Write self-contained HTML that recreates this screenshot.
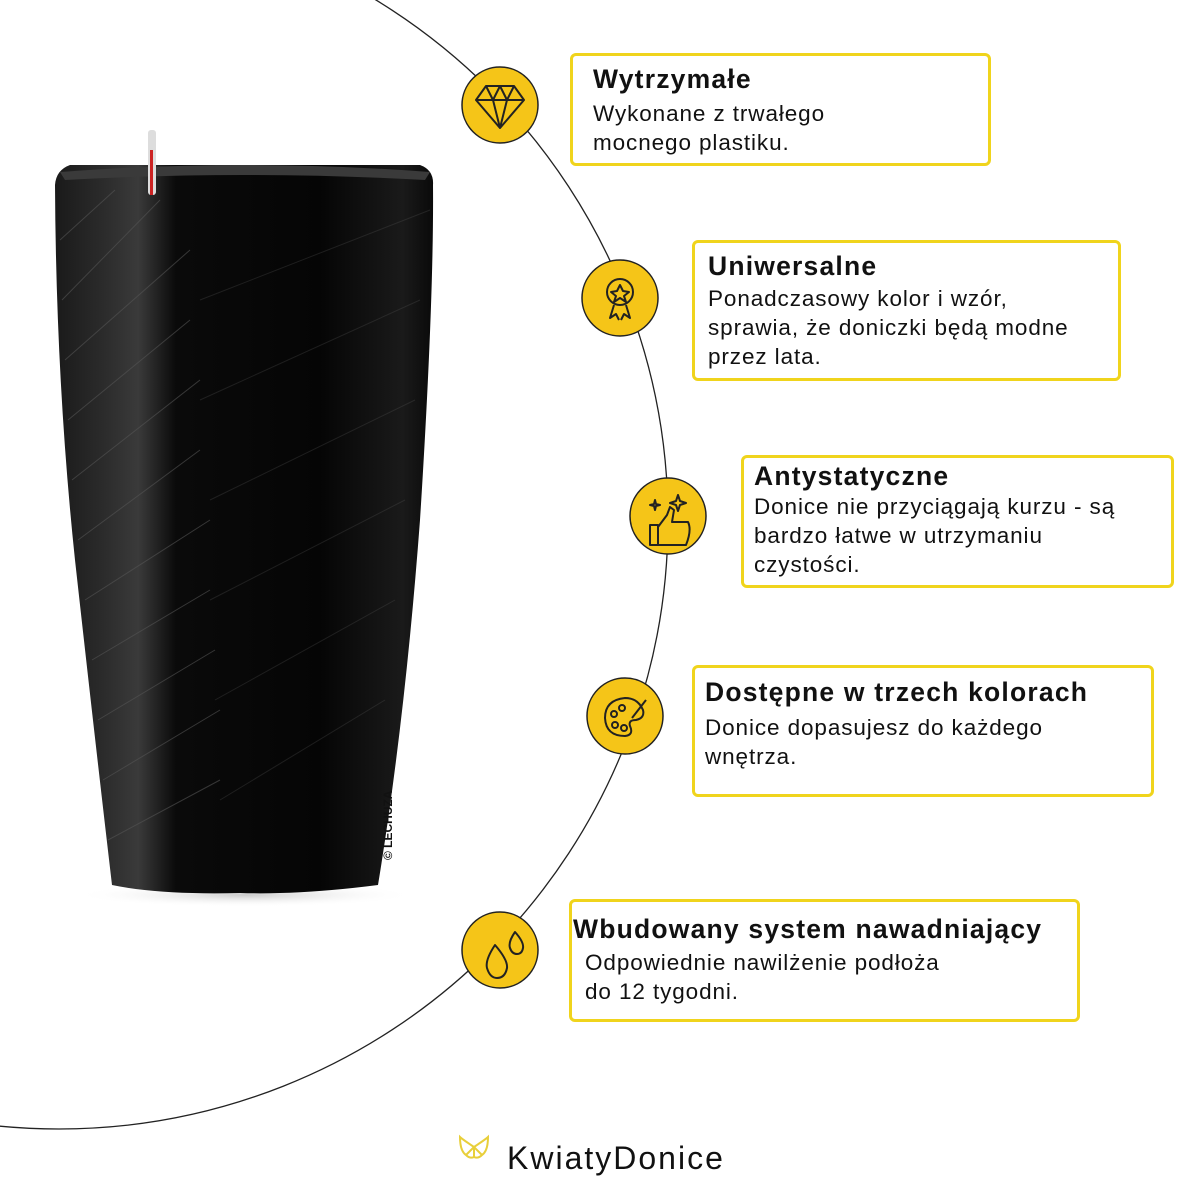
<!DOCTYPE html>
<html><head><meta charset="utf-8"><style>
html,body{margin:0;padding:0;background:#fff;}
body{width:1200px;height:1200px;position:relative;overflow:hidden;font-family:"Liberation Sans",sans-serif;}
.box{position:absolute;border:3px solid #f0d41c;border-radius:6px;box-sizing:border-box;background:#fff;}
.box h3{margin:0;font-size:26.5px;font-weight:bold;color:#111;letter-spacing:1.2px;white-space:nowrap;}
.box p{margin:0;font-size:22.5px;line-height:29px;color:#111;letter-spacing:0.9px;white-space:nowrap;}
</style></head><body>
<svg width="1200" height="1200" style="position:absolute;left:0;top:0">
<defs>
<linearGradient id="pg" x1="0" x2="1" y1="0" y2="0">
<stop offset="0" stop-color="#1a1a1a"/><stop offset="0.12" stop-color="#2a2a2a"/><stop offset="0.22" stop-color="#3a3a3a"/><stop offset="0.32" stop-color="#0a0a0a"/><stop offset="0.7" stop-color="#050505"/><stop offset="0.92" stop-color="#1a1a1a"/><stop offset="1" stop-color="#0a0a0a"/>
</linearGradient>
<radialGradient id="sh" cx="0.5" cy="0.5" r="0.5"><stop offset="0" stop-color="#ccc"/><stop offset="1" stop-color="#fff" stop-opacity="0"/></radialGradient>
</defs>
<circle cx="59" cy="520" r="609" fill="none" stroke="#222" stroke-width="1.3"/>
<ellipse cx="245" cy="895" rx="170" ry="12" fill="url(#sh)"/>
<path d="M55 185 Q56 170 70 165 L420 165 Q434 170 433 185 Q434 300 420 520 Q405 720 378 885 Q300 895 240 893 Q160 895 112 885 Q95 740 75 560 Q56 380 55 185 Z" fill="url(#pg)"/>
<g stroke="#555" stroke-width="1" opacity="0.6" fill="none">
<path d="M60 240 L115 190 M62 300 L160 200 M65 360 L190 250 M68 420 L190 320 M72 480 L200 380 M78 540 L200 450 M85 600 L210 520 M92 660 L210 590 M98 720 L215 650 M103 780 L220 710 M108 840 L220 780"/>
<path d="M200 300 L430 210 M200 400 L420 300 M210 500 L415 400 M210 600 L405 500 M215 700 L395 600 M220 800 L385 700" opacity="0.5"/>
</g>
<path d="M60 172 Q245 158 430 172 L425 180 Q245 170 65 180Z" fill="#3a3a3a"/>
<rect x="148" y="130" width="8" height="65" rx="3" fill="#ddd"/>
<rect x="150" y="150" width="3" height="45" fill="#c22"/>
<text x="392" y="860" transform="rotate(-90 392 860)" font-size="12" font-weight="bold" fill="#111" font-family="Liberation Sans, sans-serif">© LECHUZA</text>
<g stroke="#222" stroke-width="1.5">
<circle cx="500" cy="105" r="38" fill="#f5c518"/>
<circle cx="620" cy="298" r="38" fill="#f5c518"/>
<circle cx="668" cy="516" r="38" fill="#f5c518"/>
<circle cx="625" cy="716" r="38" fill="#f5c518"/>
<circle cx="500" cy="950" r="38" fill="#f5c518"/>
</g>
<g stroke="#222" stroke-width="2" fill="none" stroke-linejoin="round">
<path d="M476 100 L486 86 L514 86 L524 100 L500 128 Z M476 100 L524 100 M486 86 L493 100 L500 86 L507 100 L514 86 M493 100 L500 128 L507 100"/>
<circle cx="620" cy="292" r="13"/><path d="M614 305 L610 318 L616 314 L619 320 M626 305 L630 318 L624 314 L621 320"/><path d="M620 285 L623 291 L629 292 L624 296 L626 302 L620 298 L614 302 L616 296 L611 292 L617 291Z"/>
<path d="M650 525 L658 525 L658 545 L650 545Z M658 527 L667 515 L670 507 L674 510 L672 522 L688 522 Q692 530 686 545 L658 545"/><path d="M678 495 l2 6 6 2 -6 2 -2 6 -2 -6 -6 -2 6 -2z M655 500 l1 4 4 1 -4 1 -1 4 -1 -4 -4 -1 4 -1z"/>
<path d="M625 698 Q605 700 605 718 Q606 736 625 736 Q634 735 630 726 Q628 720 636 720 Q645 718 643 710 Q638 698 625 698Z"/><circle cx="614" cy="714" r="3"/><circle cx="622" cy="708" r="3"/><circle cx="615" cy="725" r="3"/><circle cx="624" cy="728" r="3"/><path d="M632 718 L646 700"/>
<path d="M495 945 Q485 960 487 968 Q490 978 497 978 Q505 978 507 968 Q508 960 495 945Z M515 932 Q508 942 510 948 Q512 954 517 954 Q522 954 523 948 Q524 942 515 932Z"/>
</g>
<g transform="translate(460,1147)" stroke="#e8cf3a" stroke-width="2" fill="none">
<path d="M14 0 Q2 -8 0 -10 Q0 4 6 8 Q10 12 14 10 Q18 12 22 8 Q28 4 28 -10 Q26 -8 14 0Z M14 0 L14 10 M6 8 L14 0 L22 8"/>
</g>
</svg>
<div class="box" style="left:570px;top:53px;width:421px;height:113px;padding:8px 0 0 20px"><h3>Wytrzymałe</h3><p style="margin-top:4px">Wykonane z trwałego<br>mocnego plastiku.</p></div>
<div class="box" style="left:692px;top:240px;width:429px;height:141px;padding:8px 0 0 13px"><h3>Uniwersalne</h3><p style="margin-top:2px">Ponadczasowy kolor i wzór,<br>sprawia, że doniczki będą modne<br>przez lata.</p></div>
<div class="box" style="left:741px;top:455px;width:433px;height:133px;padding:3px 0 0 10px"><h3>Antystatyczne</h3><p>Donice nie przyciągają kurzu - są<br>bardzo łatwe w utrzymaniu<br>czystości.</p></div>
<div class="box" style="left:692px;top:665px;width:462px;height:132px;padding:9px 0 0 10px"><h3>Dostępne w trzech kolorach</h3><p style="margin-top:5px">Donice dopasujesz do każdego<br>wnętrza.</p></div>
<div class="box" style="left:569px;top:899px;width:511px;height:123px;padding:12px 0 0 1px"><h3>Wbudowany system nawadniający</h3><p style="margin-top:3px;padding-left:12px">Odpowiednie nawilżenie podłoża<br>do 12 tygodni.</p></div>
<div style="position:absolute;left:507px;top:1140px;font-size:32px;color:#111;letter-spacing:2px">KwiatyDonice</div>
</body></html>
